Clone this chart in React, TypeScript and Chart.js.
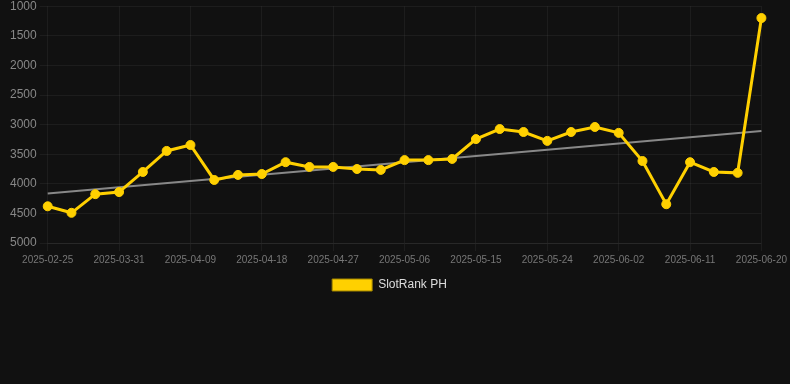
import React, { useEffect, useRef } from "react";
import { Chart, registerables } from "chart.js";

Chart.register(...registerables);

const dates = [
  "2025-02-25", "2025-03-25", "2025-03-28", "2025-03-31", "2025-04-03", "2025-04-06",
  "2025-04-09", "2025-04-12", "2025-04-15", "2025-04-18", "2025-04-21", "2025-04-24",
  "2025-04-27", "2025-04-30", "2025-05-03", "2025-05-06", "2025-05-09", "2025-05-12",
  "2025-05-15", "2025-05-18", "2025-05-21", "2025-05-24", "2025-05-27", "2025-05-30",
  "2025-06-02", "2025-06-05", "2025-06-08", "2025-06-11", "2025-06-14", "2025-06-17",
  "2025-06-20",
];

const ranks = [
  4380, 4490, 4175, 4140, 3800, 3445, 3345, 3935, 3850, 3835, 3635, 3715,
  3715, 3750, 3765, 3600, 3600, 3580, 3245, 3075, 3125, 3275, 3125, 3040,
  3140, 3615, 4345, 3635, 3800, 3815, 1200,
];

const trendStart = 4165;
const trendEnd = 3110;

const yMin = 1000;
const yMax = 5000;
const yStep = 500;

export default function App() {
  const ref = useRef<HTMLCanvasElement | null>(null);
  useEffect(() => {
    document.body.style.margin = "0";
    document.body.style.background = "#111111";
    const trend = dates.map((_, i) =>
      i === 0 ? trendStart : i === dates.length - 1 ? trendEnd : null
    );
    const chart = new Chart(ref.current!, {
      type: "line",
      data: {
        labels: dates,
        datasets: [
          {
            label: "SlotRank PH",
            data: ranks,
            borderColor: "#FFD000",
            backgroundColor: "#FFD000",
            borderWidth: 3,
            pointRadius: 4.5,
            pointBorderWidth: 1,
            pointBackgroundColor: "#FFD000",
            pointBorderColor: "#FFD000",
            tension: 0,
          },
          {
            label: "trend",
            data: trend,
            borderColor: "#888888",
            borderWidth: 2,
            pointRadius: 0,
            spanGaps: true,
          },
        ],
      },
      options: {
        animation: false,
        responsive: false,
        maintainAspectRatio: false,
        layout: { padding: { left: 7, right: 18, top: 0, bottom: 0 } },
        plugins: {
          legend: {
            position: "bottom",
            labels: {
              color: "#dddddd",
              font: { family: "Arial, 'Liberation Sans', sans-serif", size: 12 },
              boxWidth: 40,
              boxHeight: 12,
              generateLabels: (c) =>
                Chart.defaults.plugins.legend.labels
                  .generateLabels(c)
                  .filter((it) => it.text !== "trend")
                  .map((it) => ({ ...it, lineWidth: 1, strokeStyle: "#a08400", fillStyle: "#FFD000" })),
            },
          },
          tooltip: { enabled: false },
        },
        scales: {
          x: {
            grid: { color: "rgba(255,255,255,0.05)" },
            border: { color: "rgba(255,255,255,0.05)" },
            ticks: {
              autoSkip: false,
              maxRotation: 0,
              color: "#777777",
              font: { family: "Arial, 'Liberation Sans', sans-serif", size: 10 },
              callback: function (_v, i) {
                return i % 3 === 0 ? dates[i] : null;
              },
            },
          },
          y: {
            reverse: true,
            min: yMin,
            max: yMax,
            grid: { color: "rgba(255,255,255,0.05)" },
            border: { display: false },
            ticks: {
              stepSize: yStep,
              color: "#888888",
              font: { family: "Arial, 'Liberation Sans', sans-serif", size: 12 },
              callback: (v) => String(v),
            },
          },
        },
      },
    });
    return () => chart.destroy();
  }, []);
  return (
    <div style={{ width: 790, height: 384, background: "#111111", overflow: "hidden" }}>
      <canvas ref={ref} width={790} height={305} style={{ display: "block", marginTop: -4 }} />
    </div>
  );
}
